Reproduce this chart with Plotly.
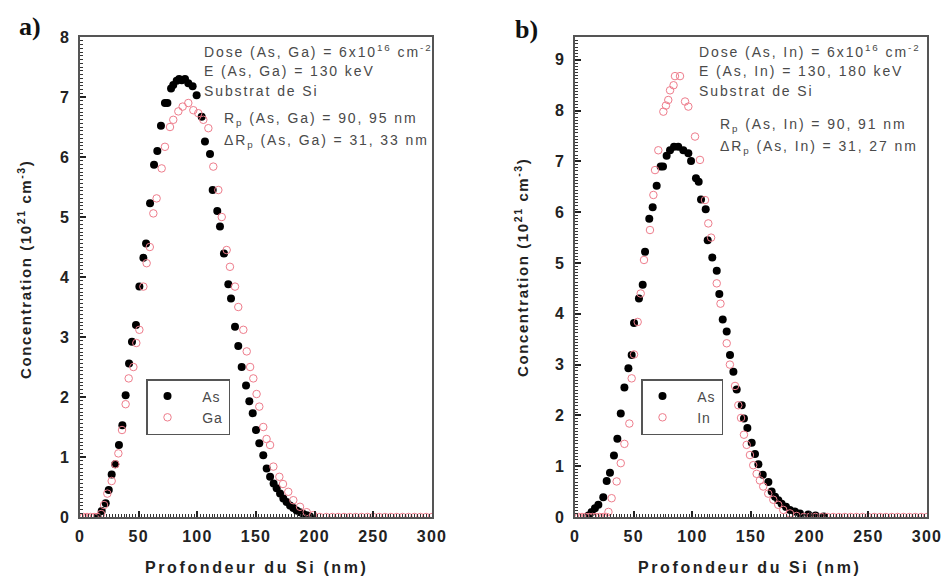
import plotly.graph_objects as go

# ---------------- data ----------------
# Panel a) As / Ga
as_a_x = [15.0, 18.5, 21.9, 24.5, 27.0, 30.0, 33.2, 36.1, 38.9, 41.8, 44.3, 47.7, 50.6, 54.0, 56.3,
          59.7, 63.1, 65.9, 69.0, 72.4, 74.5, 77.6, 79.5, 82.4, 84.5, 86.7, 89.5, 92.3, 96.0, 99.4,
          103.7, 106.5, 110.8, 113.1, 117.0, 119.3, 122.7, 126.4, 128.7, 132.1, 134.9, 137.8, 141.5,
          144.3, 147.2, 150.0, 152.8, 156.2, 159.1, 162.0, 165.0, 167.6, 170.5, 173.3, 176.1, 179.0,
          181.8, 184.6, 187.5, 190.3, 193.2, 196.0]
as_a_y = [0.0, 0.1, 0.23, 0.45, 0.71, 0.88, 1.2, 1.53, 2.03, 2.56, 2.92, 3.2, 3.84, 4.32, 4.56,
          5.23, 5.87, 6.1, 6.52, 6.9, 6.9, 7.14, 7.2, 7.27, 7.3, 7.28, 7.3, 7.23, 7.18, 7.03,
          6.67, 6.26, 6.05, 5.45, 5.1, 4.84, 4.39, 3.88, 3.64, 3.17, 2.85, 2.5, 2.19,
          1.93, 1.73, 1.45, 1.23, 1.03, 0.81, 0.67, 0.56, 0.48, 0.39, 0.31, 0.25, 0.19,
          0.15, 0.11, 0.08, 0.05, 0.03, 0.01]

ga_a_x = [0, 3, 6, 9, 12, 15, 18.0, 20.5, 23.3, 27.0, 30.1, 32.7, 35.8, 38.9, 41.5, 45.5, 48.0,
          50.6, 54.0, 56.8, 59.5, 62.5, 65.3, 69.6, 72.4, 76.7, 79.5, 83.8, 87.5, 92.3, 96.6,
          100.8, 105.1, 109.4, 113.6, 117.9, 120.8, 125.0, 127.8, 132.1, 134.9, 139.2, 142.1,
          145.0, 147.7, 150.5, 152.8, 156.2, 159.0, 162.0, 164.8, 169.9, 173.0, 177.5, 181.8,
          187.5, 193.2, 198.8, 204.5, 210, 215, 220, 225, 230, 235, 240, 245, 250, 255, 260,
          265, 270, 275, 280, 285, 290, 295, 300]
ga_a_y = [0, 0, 0, 0, 0, 0, 0.05, 0.2, 0.39, 0.6, 0.88, 1.06, 1.45, 1.88, 2.31, 2.5, 2.9,
          3.12, 3.84, 4.23, 4.5, 5.06, 5.31, 5.81, 6.17, 6.5, 6.62, 6.76, 6.84, 6.9, 6.78,
          6.73, 6.62, 6.48, 5.84, 5.45, 5.0, 4.45, 4.17, 3.84, 3.5, 3.12, 2.76,
          2.5, 2.31, 2.05, 1.84, 1.5, 1.3, 1.2, 0.84, 0.67, 0.55, 0.42, 0.28,
          0.17, 0.08, 0.03, 0.0, 0, 0, 0, 0, 0, 0, 0, 0, 0, 0, 0,
          0, 0, 0, 0, 0, 0, 0, 0]

# Panel b) As / In
as_b_x = [11.5, 14.2, 17.0, 19.9, 24.1, 27.0, 29.8, 33.2, 36.1, 39.0, 42.1, 45.5, 48.3, 50.3, 54.5,
          57.7, 59.7, 63.3, 66.2, 69.6, 73.0, 75.0, 78.1, 81.0, 84.4, 88.0, 92.3, 96.6, 98.9,
          103.1, 105.4, 107.4, 111.4, 113.1, 117.0, 120.8, 123.0, 125.9, 129.3, 132.1, 135.0,
          137.8, 142.1, 144.0, 146.9, 150.6, 153.4, 156.3, 160.0, 164.8, 167.6, 170.5, 173.3,
          176.1, 179.8, 183.2, 187.4, 191.7, 198.8, 205.0, 212.0]
as_b_y = [0.03, 0.1, 0.17, 0.24, 0.39, 0.71, 0.87, 1.21, 1.54, 2.04, 2.55, 2.93, 3.19, 3.82, 4.3,
          4.57, 5.22, 5.87, 6.1, 6.52, 6.9, 6.9, 7.11, 7.22, 7.29, 7.29, 7.22, 7.16, 7.01,
          6.67, 6.6, 6.25, 6.06, 5.45, 5.11, 4.85, 4.39, 3.89, 3.65, 3.19, 2.86,
          2.51, 2.2, 1.94, 1.75, 1.46, 1.24, 1.04, 0.83, 0.69, 0.5, 0.4, 0.33,
          0.26, 0.2, 0.14, 0.11, 0.07, 0.05, 0.03, 0.01]

in_b_x = [0, 3, 6, 9, 12, 15, 18, 21, 24, 27, 28.5, 31.2, 35.5, 39.0, 42.1, 46.3, 48.3, 50.3, 53.4,
          56.0, 58.8, 63.9, 66.8, 68.2, 71.0, 75.3, 77.5, 79.5, 81.0, 84.0, 85.2, 89.5, 93.8,
          96.6, 102.3, 106.5, 110.8, 113.6, 116.0, 120.8, 124.0, 129.3, 132.0, 136.4, 139.2,
          141.5, 144.0, 146.3, 149.1, 151.9, 154.8, 157.6, 160.4, 164.7, 169.0, 173.2, 177.5,
          183.2, 188.9, 195, 200, 205, 210, 215, 220, 225, 230, 235, 240, 245, 250, 255, 260,
          265, 270, 275, 280, 285, 290, 295, 300]
in_b_y = [0, 0, 0, 0, 0, 0, 0, 0, 0, 0, 0.1, 0.37, 0.7, 1.06, 1.44, 1.84, 2.73, 3.2, 3.84,
          4.4, 5.06, 5.65, 6.34, 6.83, 7.22, 7.98, 8.1, 8.21, 8.4, 8.5, 8.68, 8.68, 8.18,
          8.08, 7.49, 7.03, 6.24, 5.78, 5.5, 4.6, 4.2, 3.42, 3.0, 2.58, 2.2,
          1.95, 1.62, 1.42, 1.22, 1.02, 0.85, 0.72, 0.6, 0.46, 0.34, 0.24, 0.14,
          0.07, 0.02, 0, 0, 0, 0, 0, 0, 0, 0, 0, 0, 0, 0, 0, 0,
          0, 0, 0, 0, 0, 0, 0, 0]

x_ticks = [0, 50, 100, 150, 200, 250, 300]
ya_ticks = [0, 1, 2, 3, 4, 5, 6, 7, 8]
yb_ticks = [0, 1, 2, 3, 4, 5, 6, 7, 8, 9]

# ---------------- figure ----------------
W, H = 942, 581
BLACK = "#000000"
PINK = "rgb(238,125,140)"
FONT = "Liberation Sans, Arial, sans-serif"
TXT = "#4a4a4a"


def ls(s, px):
    return "<span style='letter-spacing:%spx'>%s</span>" % (px, s)


fig = go.Figure()

NB = "\u00a0"
fig.add_trace(go.Scatter(x=as_a_x, y=as_a_y, mode="markers", name=ls(NB * 3 + "As", 1),
                         marker=dict(symbol="circle", size=8, color=BLACK),
                         xaxis="x", yaxis="y", legend="legend"))
fig.add_trace(go.Scatter(x=ga_a_x, y=ga_a_y, mode="markers", name=ls(NB * 3 + "Ga", 1),
                         marker=dict(symbol="circle-open", size=7.5, color=PINK, line=dict(width=1)),
                         xaxis="x", yaxis="y", legend="legend"))
fig.add_trace(go.Scatter(x=as_b_x, y=as_b_y, mode="markers", name=ls(NB * 3 + "As", 1),
                         marker=dict(symbol="circle", size=8, color=BLACK),
                         xaxis="x2", yaxis="y2", legend="legend2"))
fig.add_trace(go.Scatter(x=in_b_x, y=in_b_y, mode="markers", name=ls(NB * 3 + "In", 1),
                         marker=dict(symbol="circle-open", size=7.5, color=PINK, line=dict(width=1)),
                         xaxis="x2", yaxis="y2", legend="legend2"))

ydom = [(H - 517) / H, (H - 37) / H]
tickfont = dict(family=FONT, size=16, color="#222")


def xaxis(dom, anchor):
    return dict(domain=dom, anchor=anchor, range=[0, 300], tickvals=x_ticks,
                ticktext=["<b>%s</b>" % ls(t, 1.2) for t in x_ticks],
                ticks="inside", ticklen=6, tickwidth=1.5, tickcolor="#222",
                minor=dict(ticks="inside", ticklen=3, dtick=2.5, tickcolor="#333", tickwidth=1),
                showline=True, linecolor="#555", linewidth=2, mirror=True,
                showgrid=False, zeroline=False, tickfont=tickfont, fixedrange=True,
                automargin=False, ticklabelstandoff=4, ticklabeloverflow="allow")


def yaxis(rng, ticks, anchor):
    return dict(domain=ydom, anchor=anchor, range=rng, tickvals=ticks,
                ticktext=["<b>%s</b>" % t for t in ticks],
                ticks="inside", ticklen=6, tickwidth=1.5, tickcolor="#222",
                minor=dict(ticks="inside", ticklen=3, dtick=0.0625, tickcolor="#333", tickwidth=1),
                showline=True, linecolor="#555", linewidth=2, mirror=True,
                showgrid=False, zeroline=False, tickfont=tickfont, fixedrange=True,
                automargin=False, ticklabelstandoff=6, ticklabeloverflow="allow")


legfont = dict(family=FONT, size=14, color=TXT)
fig.update_layout(
    width=W, height=H,
    margin=dict(l=0, r=0, t=0, b=0, autoexpand=False),
    paper_bgcolor="white", plot_bgcolor="white",
    showlegend=True,
    xaxis=xaxis([80 / W, 432 / W], "y"),
    yaxis=yaxis([0, 8], ya_ticks, "x"),
    xaxis2=xaxis([575 / W, 927 / W], "y2"),
    yaxis2=yaxis([0, 9.45], yb_ticks, "x2"),
    legend=dict(x=146 / W, y=1 - 379 / H, xanchor="left", yanchor="top",
                bgcolor="white", bordercolor="#555", borderwidth=1.5,
                font=legfont, itemwidth=30, tracegroupgap=0),
    legend2=dict(x=641 / W, y=1 - 379 / H, xanchor="left", yanchor="top",
                 bgcolor="white", bordercolor="#555", borderwidth=1.5,
                 font=legfont, itemwidth=30, tracegroupgap=0),
)

ann = []


def txt(x, y, s, size=14, color=TXT, family=FONT, xanchor="left", angle=0):
    ann.append(dict(x=x / W, y=1 - y / H, xref="paper", yref="paper", text=s,
                    showarrow=False, xanchor=xanchor, yanchor="middle",
                    textangle=angle, font=dict(family=family, size=size, color=color)))


# panel labels
txt(17, 27, "<b>a)</b>", size=26, color="#111", family="Liberation Serif, Times New Roman, serif")
txt(513, 30, "<b>b)</b>", size=26, color="#111", family="Liberation Serif, Times New Roman, serif")

SP = 1.9
# panel a texts
txt(202, 51, ls("Dose (As, Ga) = 6x10<sup>16</sup> cm<sup>-2</sup>", SP))
txt(202, 71, ls("E (As, Ga) = 130 keV", SP))
txt(202, 91, ls("Substrat de Si", SP))
txt(222, 119, ls("R<sub>p</sub> (As, Ga) = 90, 95 nm", SP))
txt(222, 141, ls("ΔR<sub>p</sub> (As, Ga) = 31, 33 nm", SP))

# panel b texts
txt(697, 51, ls("Dose (As, In) = 6x10<sup>16</sup> cm<sup>-2</sup>", SP))
txt(697, 71, ls("E (As, In) = 130, 180 keV", SP))
txt(697, 91, ls("Substrat de Si", SP))
txt(718, 125, ls("R<sub>p</sub> (As, In) = 90, 91 nm", SP))
txt(718, 147, ls("ΔR<sub>p</sub> (As, In) = 31, 27 nm", SP))

# axis titles
ytitle = "<b>" + ls("Concentration (10<sup>21</sup> cm<sup>-3</sup>)", 1.6) + "</b>"
xtitle = "<b>" + ls("Profondeur du Si (nm)", 2.6) + "</b>"
txt(24, 270, ytitle, size=15, color="#222", xanchor="center", angle=-90)
txt(521, 268, ytitle, size=15, color="#222", xanchor="center", angle=-90)
txt(256, 567, xtitle, size=16, color="#222", xanchor="center")
txt(749, 567, xtitle, size=16, color="#222", xanchor="center")

fig.update_layout(annotations=ann)

fig.write_html("out.html",
               config={"displayModeBar": False},
               post_script="document.body.style.margin='0px';"
                           "document.body.style.overflow='hidden';")
